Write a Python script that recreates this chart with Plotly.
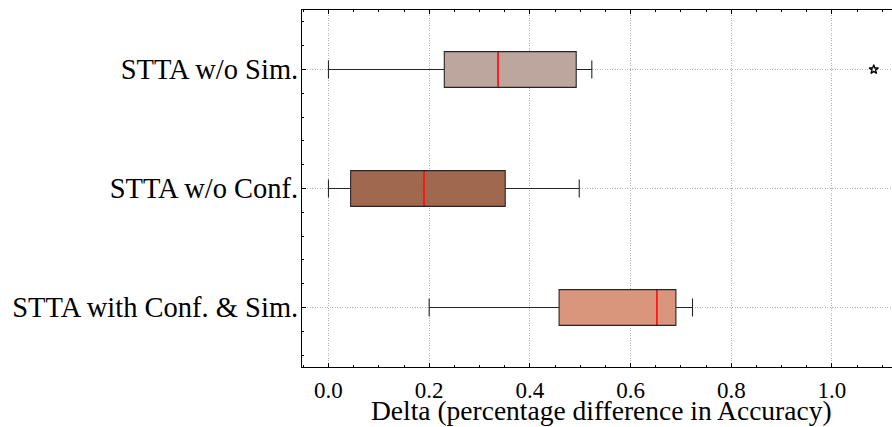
import plotly.graph_objects as go

# Data
categories = ["STTA with Conf. & Sim.", "STTA w/o Conf.", "STTA w/o Sim."]
positions = [1, 2, 3]
lower_whisker = [0.200, 0.000, 0.000]
q1_vals = [0.458, 0.044, 0.230]
median_vals = [0.652, 0.190, 0.337]
q3_vals = [0.690, 0.351, 0.492]
upper_whisker = [0.723, 0.498, 0.523]
outlier_x = [1.083]
outlier_cat = [3]
box_colors = ["#D9967C", "#A0694F", "#BCA69E"]
x_title = "Delta (percentage difference in Accuracy)"

BOX_W = 0.3
FONT = "Liberation Serif"

fig = go.Figure()
for i, cat in enumerate(categories):
    fig.add_trace(go.Box(
        y=[positions[i]], q1=[q1_vals[i]], median=[median_vals[i]], q3=[q3_vals[i]],
        lowerfence=[lower_whisker[i]], upperfence=[upper_whisker[i]],
        orientation="h", width=BOX_W, whiskerwidth=0.5,
        fillcolor=box_colors[i], line=dict(color="#262626", width=1.1),
        boxpoints=False, name=cat, showlegend=False, hoverinfo="skip",
    ))
for i in range(len(categories)):
    fig.add_trace(go.Scatter(
        x=[median_vals[i], median_vals[i]],
        y=[positions[i] - BOX_W / 2 + 0.01, positions[i] + BOX_W / 2 - 0.01],
        mode="lines", line=dict(color="#FF1A1A", width=1.6),
        showlegend=False, hoverinfo="skip",
    ))
fig.add_trace(go.Scatter(
    x=outlier_x, y=outlier_cat, mode="markers",
    marker=dict(symbol="star-open", size=7, color="black", line=dict(width=1.3, color="black")),
    showlegend=False, hoverinfo="skip",
))

fig.update_layout(
    width=892, height=427,
    margin=dict(l=302, r=0, t=10, b=60, autoexpand=False),
    plot_bgcolor="white", paper_bgcolor="white",
    boxmode="overlay",
    font=dict(family=FONT, color="black"),
    annotations=[dict(
        text=x_title, xref="paper", yref="paper", x=0.507, y=-0.072,
        xanchor="center", yanchor="top", showarrow=False,
        font=dict(size=27.5, family=FONT, color="black"),
    )],
)
GRID_DASH = "1px,1.5px"
fig.update_xaxes(
    automargin=False,
    range=[-0.0526, 1.1192], tickmode="linear", tick0=0, dtick=0.2, tickformat=".1f",
    ticks="inside", ticklen=4, tickwidth=1, tickcolor="black",
    minor=dict(ticks="inside", ticklen=2, tickwidth=0.8, tickcolor="black", dtick=0.05, tick0=0, showgrid=False),
    showline=True, linecolor="black", linewidth=1.2, mirror="ticks",
    showgrid=True, gridcolor="#b4b4b4", griddash=GRID_DASH, gridwidth=0.9,
    zeroline=False,
    tickfont=dict(size=23, family=FONT), ticklabelstandoff=2,
)
fig.update_yaxes(
    automargin=False,
    range=[0.5, 3.5], tickmode="array", tickvals=positions, ticktext=categories,
    ticks="inside", ticklen=4, tickwidth=1, tickcolor="black",
    minor=dict(ticks="inside", ticklen=2, tickwidth=0.8, tickcolor="black", tickmode="linear", tick0=0, dtick=0.2, showgrid=False),
    showline=True, linecolor="black", linewidth=1.2, mirror=False,
    showgrid=True, gridcolor="#b4b4b4", griddash=GRID_DASH, gridwidth=0.9,
    zeroline=False,
    tickfont=dict(size=28.5, family=FONT), ticklabelstandoff=-3,
)

fig.write_html(
    "out.html",
    config={"displayModeBar": False},
    post_script="document.body.style.margin='0';document.body.style.overflow='hidden';",
)
